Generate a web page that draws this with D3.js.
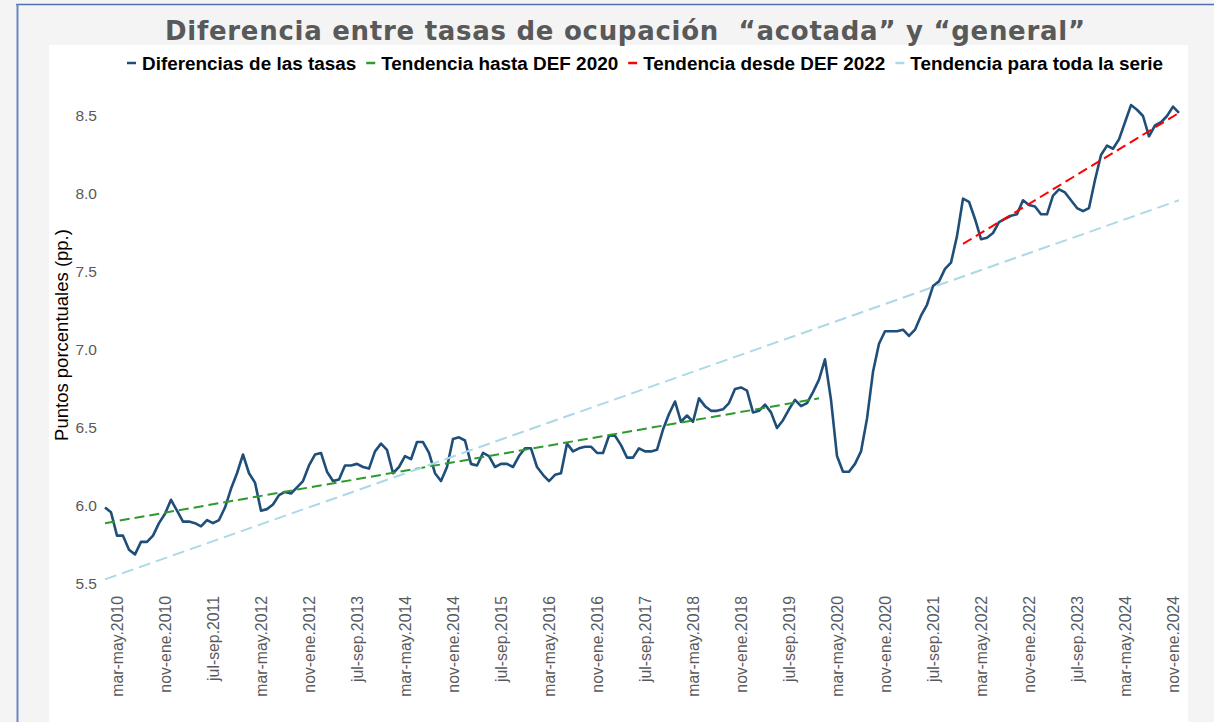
<!DOCTYPE html>
<html>
<head>
<meta charset="utf-8">
<script src="https://cdn.jsdelivr.net/npm/d3@7"></script>
<style>
  body { margin: 0; background: #f4f4f4; }
  svg { display: block; }
</style>
</head>
<body>
<div id="chart"></div>
<script>
// month abbreviations used to build the rolling-quarter labels (ene-mar.2010 ... dic-feb.2024)
var months = ["ene","feb","mar","abr","may","jun","jul","ago","sep","oct","nov","dic"];
var startYear = 2010;

// diferencia de tasas, puntos porcentuales
var diferencias = [
  5.99, 5.96, 5.81, 5.81, 5.72, 5.69, 5.77, 5.77, 5.81, 5.89, 5.95, 6.04,
  5.97, 5.90, 5.90, 5.89, 5.87, 5.91, 5.89, 5.91, 5.99, 6.11, 6.21, 6.33,
  6.21, 6.15, 5.97, 5.98, 6.01, 6.07, 6.09, 6.08, 6.12, 6.16, 6.26, 6.33,
  6.34, 6.22, 6.16, 6.17, 6.26, 6.26, 6.27, 6.25, 6.24, 6.35, 6.40, 6.36,
  6.21, 6.25, 6.32, 6.30, 6.41, 6.41, 6.34, 6.21, 6.16, 6.25, 6.43, 6.44,
  6.42, 6.27, 6.26, 6.34, 6.32, 6.25, 6.27, 6.27, 6.25, 6.32, 6.37, 6.37,
  6.25, 6.20, 6.16, 6.20, 6.21, 6.40, 6.35, 6.37, 6.38, 6.38, 6.34, 6.34,
  6.45, 6.45, 6.39, 6.31, 6.31, 6.37, 6.35, 6.35, 6.36, 6.49, 6.59, 6.67,
  6.54, 6.58, 6.54, 6.69, 6.64, 6.61, 6.61, 6.62, 6.66, 6.75, 6.76, 6.74,
  6.60, 6.61, 6.65, 6.60, 6.50, 6.55, 6.62, 6.68, 6.64, 6.66, 6.73, 6.81,
  6.94, 6.68, 6.32, 6.22, 6.22, 6.27, 6.35, 6.56, 6.86, 7.04, 7.12, 7.12,
  7.12, 7.13, 7.09, 7.13, 7.22, 7.29, 7.41, 7.44, 7.52, 7.56, 7.73, 7.97,
  7.95, 7.84, 7.71, 7.72, 7.75, 7.82, 7.84, 7.86, 7.87, 7.96, 7.93, 7.92,
  7.87, 7.87, 7.99, 8.03, 8.01, 7.96, 7.91, 7.89, 7.91, 8.09, 8.25, 8.31,
  8.29, 8.35, 8.46, 8.57, 8.54, 8.50, 8.37, 8.44, 8.46, 8.50, 8.56, 8.52
];

// trend lines, start and end
var tendenciaHasta2020 = [["ene-mar.2010", 5.89], ["dic-feb.2019", 6.69]];
var tendenciaDesde2022 = [["dic-feb.2021", 7.68], ["dic-feb.2024", 8.52]];
var tendenciaToda = [["ene-mar.2010", 5.53], ["dic-feb.2024", 7.96]];

var xTickLabels = [
  "mar-may.2010","nov-ene.2010","jul-sep.2011","mar-may.2012","nov-ene.2012",
  "jul-sep.2013","mar-may.2014","nov-ene.2014","jul-sep.2015","mar-may.2016",
  "nov-ene.2016","jul-sep.2017","mar-may.2018","nov-ene.2018","jul-sep.2019",
  "mar-may.2020","nov-ene.2020","jul-sep.2021","mar-may.2022","nov-ene.2022",
  "jul-sep.2023","mar-may.2024","nov-ene.2024"
];
var yTicks = [5.5, 6.0, 6.5, 7.0, 7.5, 8.0, 8.5];

var legendItems = [
  { name: "Diferencias de las tasas", color: "#1f4e79" },
  { name: "Tendencia hasta DEF 2020", color: "#2e9a2e" },
  { name: "Tendencia desde DEF 2022", color: "#ff0000" },
  { name: "Tendencia para toda la serie", color: "#add8e6" }
];

function init() {
  var w = 1214;
  var h = 722;

  var periods = diferencias.map(function(d, i) {
    var m = i % 12;
    return months[m] + "-" + months[(m + 2) % 12] + "." + (startYear + Math.floor(i / 12));
  });
  var data = diferencias.map(function(d, i) { return { period: periods[i], value: d }; });

  var svg = d3.select("#chart")
    .append("svg")
    .attr("width", w)
    .attr("height", h);

  svg.append("rect").attr("width", w).attr("height", h).attr("fill", "#f4f4f4");
  // white chart panel
  svg.append("rect")
    .attr("x", 49).attr("y", 45)
    .attr("width", 1139).attr("height", h - 45)
    .attr("fill", "#ffffff");
  // frame lines
  svg.append("line").attr("x1", 16).attr("x2", w).attr("y1", 4.5).attr("y2", 4.5)
    .attr("stroke", "#4f6fae").attr("stroke-width", 1.5);
  svg.append("line").attr("x1", 17.5).attr("x2", 17.5).attr("y1", 4).attr("y2", h)
    .attr("stroke", "#6d86bd").attr("stroke-width", 2);

  svg.append("text")
    .attr("x", 165).attr("y", 40)
    .attr("textLength", 920)
    .attr("lengthAdjust", "spacing")
    .style("white-space", "pre")
    .style("font-family", "'DejaVu Sans', sans-serif")
    .style("font-weight", "bold")
    .style("font-size", "26px")
    .style("fill", "#595959")
    .text("Diferencia entre tasas de ocupación  “acotada” y “general”");

  var x = d3.scalePoint().domain(periods).range([105, 1179]);
  var y = d3.scaleLinear().domain([5.5, 8.5]).range([584, 116]);

  var yAxis = svg.append("g")
    .attr("transform", "translate(97,0)")
    .call(d3.axisLeft(y).tickValues(yTicks).tickSize(0).tickPadding(0).tickFormat(d3.format(".1f")));
  yAxis.select(".domain").remove();
  yAxis.selectAll("text")
    .style("font-family", "'Liberation Sans', Arial, sans-serif")
    .style("font-size", "15.5px")
    .style("fill", "#595959");

  var xAxis = svg.append("g")
    .attr("transform", "translate(0,590)")
    .call(d3.axisBottom(x).tickValues(xTickLabels).tickSize(0));
  xAxis.select(".domain").remove();
  xAxis.selectAll("text")
    .attr("transform", "rotate(-90)")
    .attr("text-anchor", "end")
    .attr("x", -6)
    .attr("y", 0)
    .attr("dy", "0.35em")
    .style("font-family", "'Liberation Sans', Arial, sans-serif")
    .style("font-size", "15.8px")
    .style("fill", "#595959");

  svg.append("text")
    .attr("transform", "translate(68,335) rotate(-90)")
    .attr("text-anchor", "middle")
    .style("font-family", "'Liberation Sans', Arial, sans-serif")
    .style("font-size", "18.5px")
    .style("fill", "#000000")
    .text("Puntos porcentuales (pp.)");

  var line = d3.line()
    .x(function(d) { return x(d.period); })
    .y(function(d) { return y(d.value); });

  svg.append("path")
    .datum(data)
    .attr("fill", "none")
    .attr("stroke", "#1f4e79")
    .attr("stroke-width", 2.6)
    .attr("stroke-linejoin", "round")
    .attr("d", line);

  var trendLine = d3.line()
    .x(function(d) { return x(d[0]); })
    .y(function(d) { return y(d[1]); });

  var trends = [
    { pts: tendenciaHasta2020, color: "#2e9a2e", dash: "10,5" },
    { pts: tendenciaDesde2022, color: "#ff0000", dash: "10,5" },
    { pts: tendenciaToda, color: "#add8e6", dash: "12,6" }
  ];
  svg.selectAll(".trend")
    .data(trends)
    .enter()
    .append("path")
    .attr("class", "trend")
    .attr("fill", "none")
    .attr("stroke", function(d) { return d.color; })
    .attr("stroke-width", 2)
    .attr("stroke-dasharray", function(d) { return d.dash; })
    .attr("d", function(d) { return trendLine(d.pts); });

  // legend
  var legend = svg.append("g");
  var lx = 127;
  legendItems.forEach(function(item) {
    legend.append("line")
      .attr("x1", lx).attr("x2", lx + 9)
      .attr("y1", 63).attr("y2", 63)
      .attr("stroke", item.color).attr("stroke-width", 2.5);
    var t = legend.append("text")
      .attr("x", lx + 15).attr("y", 69.5)
      .style("font-family", "'Liberation Sans', Arial, sans-serif")
      .style("font-weight", "bold")
      .style("font-size", "18.9px")
      .style("fill", "#000000")
      .text(item.name);
    lx += 15 + t.node().getComputedTextLength() + 10;
  });
}

window.onload = init;
</script>
</body>
</html>
